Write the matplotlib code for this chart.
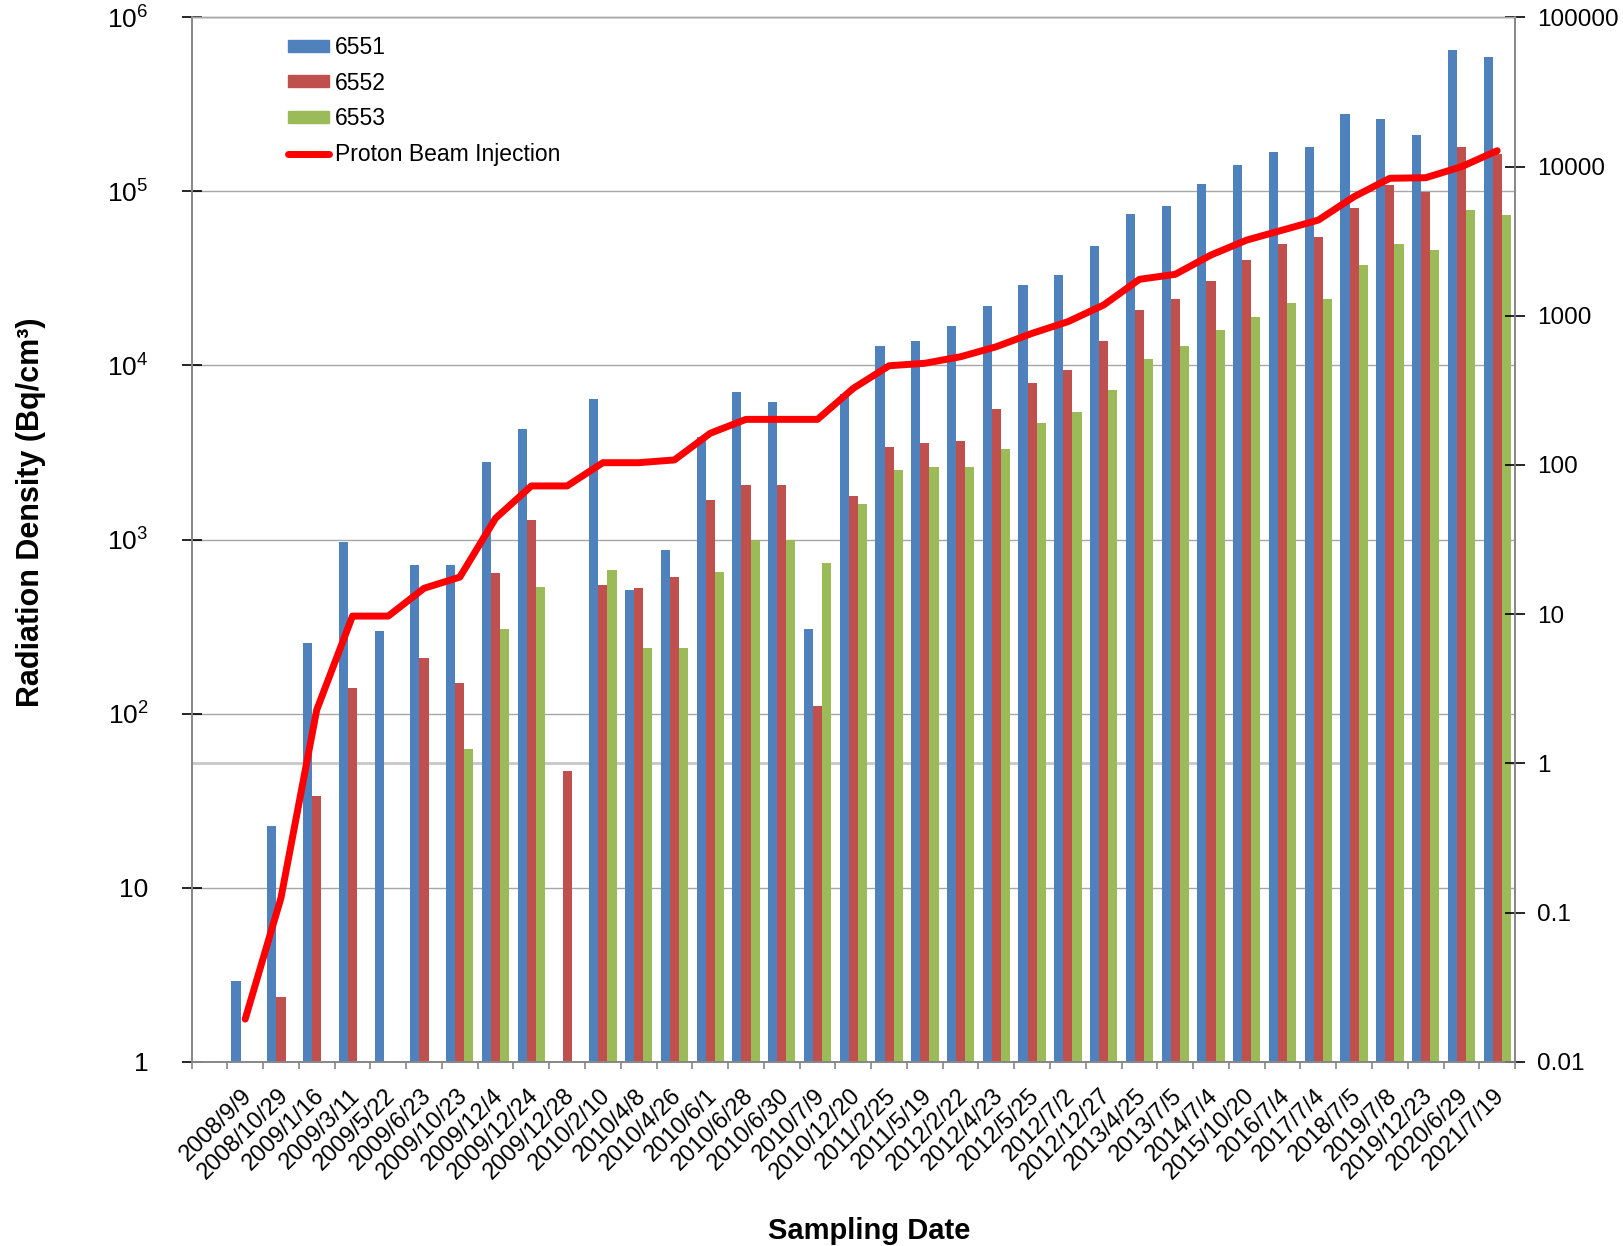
import numpy as np
import matplotlib
matplotlib.use('Agg')
import matplotlib.pyplot as plt
import matplotlib.transforms as mtransforms
from matplotlib.patches import Patch
from matplotlib.lines import Line2D

nan = np.nan

# first category is an empty slot, as in the source chart
dates = ['', '2008/9/9', '2008/10/29', '2009/1/16', '2009/3/11', '2009/5/22',
         '2009/6/23', '2009/10/23', '2009/12/4', '2009/12/24', '2009/12/28',
         '2010/2/10', '2010/4/8', '2010/4/26', '2010/6/1', '2010/6/28',
         '2010/6/30', '2010/7/9', '2010/12/20', '2011/2/25', '2011/5/19',
         '2012/2/22', '2012/4/23', '2012/5/25', '2012/7/2', '2012/12/27',
         '2013/4/25', '2013/7/5', '2014/7/4', '2015/10/20', '2016/7/4',
         '2017/7/4', '2018/7/5', '2019/7/8', '2019/12/23', '2020/6/29',
         '2021/7/19']

s6551 = [nan, 2.9, 22.7, 256, 962, 299, 710, 710, 2790, 4290, nan,
         6380, 510, 873, 3870, 7050, 6150, 308, 6900, 12900, 13840,
         16820, 21990, 29030, 32870, 48630, 73930, 82570, 109700, 140900,
         168000, 180300, 277500, 259900, 210300, 650000, 590000]

s6552 = [nan, nan, 2.36, 33.6, 140, nan, 208, 149, 644, 1292, 46.9,
         545, 528, 608, 1690, 2070, 2070, 110, 1782, 3390, 3590,
         3690, 5610, 7940, 9390, 13840, 20800, 23940, 30600, 40600,
         49900, 55000, 80400, 109000, 99300, 180000, 165000]

s6553 = [nan, nan, nan, nan, nan, nan, nan, 62.8, 307, 537, nan,
         670, 239, 239, 653, 1000, 1000, 729, 1600, 2495, 2610,
         2610, 3300, 4680, 5370, 7210, 10960, 12900, 15950, 18870,
         22900, 23940, 37670, 49900, 45950, 78000, 73000]

proton = [nan, 0.0193, 0.125, 2.28, 9.7, 9.7, 14.9, 17.7, 43.9, 72.3, 72.3,
          103.5, 103.5, 108, 163, 202, 202, 202, 326, 462, 480,
          531, 620, 762, 912, 1180, 1754, 1894, 2553, 3214,
          3750, 4375, 6280, 8340, 8410, 9970, 12760]

left_ticks = [1, 10, 1e2, 1e3, 1e4, 1e5, 1e6]
left_labels = ['1', '10', r'$\mathregular{10^{2}}$', r'$\mathregular{10^{3}}$',
               r'$\mathregular{10^{4}}$', r'$\mathregular{10^{5}}$',
               r'$\mathregular{10^{6}}$']
right_ticks = [0.01, 0.1, 1, 10, 100, 1000, 10000, 100000]
right_labels = ['0.01', '0.1', '1', '10', '100', '1000', '10000', '100000']

FONT = ['Liberation Sans', 'DejaVu Sans']
C_BLUE, C_RED, C_GREEN = '#4F81BD', '#C0504D', '#9BBB59'
GRID = '#a6a6a6'

plt.rcParams['mathtext.fontset'] = 'custom'
plt.rcParams['mathtext.rm'] = 'Liberation Sans'

fig = plt.figure(figsize=(16.23, 12.46), dpi=100)
ax = fig.add_axes([0.118, 0.1479, 0.8155, 0.8382])
ax2 = ax.twinx()

x = np.arange(len(dates))
w = 0.255
ax.bar(x - w, s6551, w, color=C_BLUE)
ax.bar(x, s6552, w, color=C_RED)
ax.bar(x + w, s6553, w, color=C_GREEN)

ax.set_yscale('log')
ax.set_ylim(1, 1e6)
ax.set_xlim(-0.5, len(dates) - 0.5)
ax.set_axisbelow(True)
ax.yaxis.grid(True, color=GRID, lw=1)

ax2.set_yscale('log')
ax2.set_ylim(0.01, 1e5)
ax2.plot(x, proton, color='#FF0000', lw=5,
         solid_joinstyle='round', solid_capstyle='round')

# light line at right-axis value 1, drawn behind the bars
tr = mtransforms.blended_transform_factory(ax.transAxes, ax2.transData)
ax.plot([0, 1], [1, 1], transform=tr, color='#c8c8c8', lw=2, zorder=0.5)

# y ticks
ax.set_yticks(left_ticks)
ax.set_yticklabels(left_labels, family=FONT, fontsize=19)
ax.yaxis.set_minor_locator(matplotlib.ticker.NullLocator())
ax.tick_params(axis='y', direction='inout', length=14, width=1.2, pad=24)
ax2.set_yticks(right_ticks)
ax2.set_yticklabels(right_labels, family=FONT, fontsize=17.5)
ax2.yaxis.set_minor_locator(matplotlib.ticker.NullLocator())
ax2.tick_params(axis='y', direction='inout', length=14, width=1.2, pad=9)

# x ticks: labels at centres, tick marks on the boundaries
ax.set_xticks(x)
ax.set_xticklabels(dates, rotation=45, ha='right', va='center',
                   rotation_mode='anchor', family=FONT, fontsize=17)
ax.set_xticks(np.arange(-0.5, len(dates)), minor=True)
ax.tick_params(axis='x', which='major', length=0, pad=22)
ax.tick_params(axis='x', which='minor', direction='out', length=5,
               width=1.2, color='#868686')
shift = mtransforms.ScaledTranslation(4 / 100, 0, fig.dpi_scale_trans)
for lab in ax.get_xticklabels():
    lab.set_transform(lab.get_transform() + shift)

for a in (ax, ax2):
    for s in ('left', 'right', 'bottom'):
        a.spines[s].set_color('#868686')
        a.spines[s].set_linewidth(1.2)
    a.spines['top'].set_color(GRID)
    a.spines['top'].set_linewidth(1)

handles = [Patch(color=C_BLUE), Patch(color=C_RED), Patch(color=C_GREEN),
           Line2D([], [], color='#FF0000', lw=5, solid_capstyle='round')]
labels = ['6551', '6552', '6553', 'Proton Beam Injection']
ax2.legend(handles, labels, loc='upper left',
           bbox_to_anchor=(288 / 1623, 1 - 36 / 1246),
           bbox_transform=fig.transFigure, frameon=False, borderpad=0,
           borderaxespad=0, handlelength=1.8, handleheight=0.42,
           handletextpad=0.25, labelspacing=0.55,
           prop={'family': FONT, 'size': 16.5})

fig.text(31 / 1623, 1 - 512 / 1246, 'Radiation Density (Bq/cm³)',
         rotation=90, ha='center', va='center', family=FONT,
         fontweight='bold', fontsize=22)
fig.text(869 / 1623, 1 - 1231 / 1246, 'Sampling Date', ha='center',
         va='center', family=FONT, fontweight='bold', fontsize=21)

fig.savefig('out.png', dpi=100)
